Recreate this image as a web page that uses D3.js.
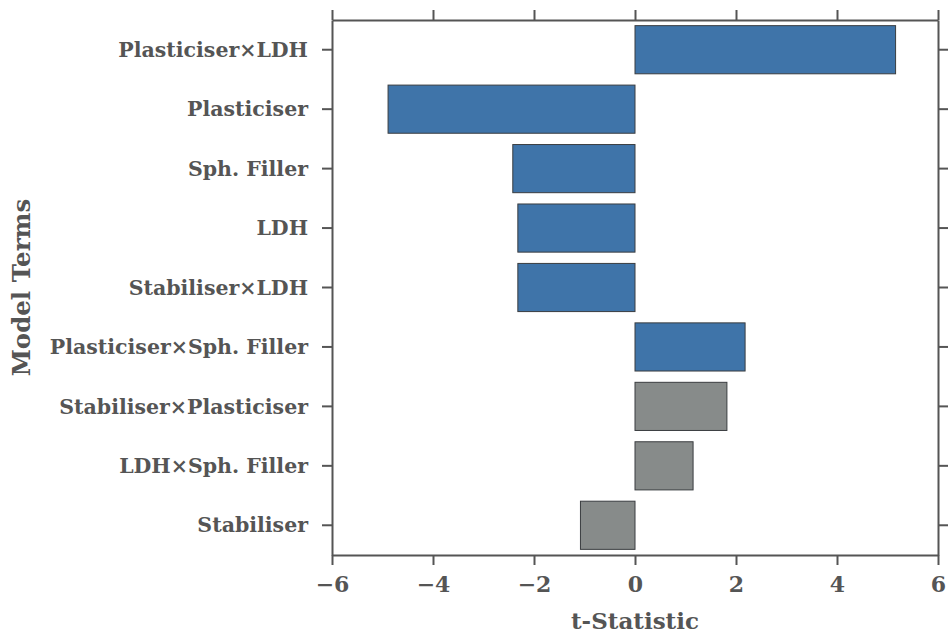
<!DOCTYPE html>
<html>
<head>
<meta charset="utf-8">
<script src="https://cdn.jsdelivr.net/npm/d3@7"></script>
<style>
    body { margin: 0; background: #fff; }
    svg text { font-family: 'DejaVu Serif', serif; font-weight: bold; fill: #555; }
</style>
</head>
<body>
<svg id="chart"></svg>
<script>
const terms = ['Plasticiser×LDH', 'Plasticiser', 'Sph. Filler', 'LDH', 'Stabiliser×LDH',
    'Plasticiser×Sph. Filler', 'Stabiliser×Plasticiser', 'LDH×Sph. Filler', 'Stabiliser'];
const tValues = [5.16, -4.89, -2.42, -2.32, -2.32, 2.18, 1.82, 1.15, -1.08];
const significant = [true, true, true, true, true, true, false, false, false];
const xTicks = [-6, -4, -2, 0, 2, 4, 6];

function TBar(id, width, height) {
    const margin = {top: 20, right: 13, bottom: 84, left: 332};
    const axisColor = '#555';
    const tickLength = 10;

    const chart = d3.select(id)
        .attr('width', width)
        .attr('height', height);

    const w = width - margin.left - margin.right;
    const h = height - margin.top - margin.bottom;

    const x = d3.scaleLinear()
        .domain([-6, 6])
        .range([0, w]);

    const y = d3.scaleBand()
        .domain(terms)
        .range([0, h])
        .paddingInner(0.19)
        .paddingOuter(0.095);

    const g = chart.append('g')
        .attr('transform', `translate(${margin.left}, ${margin.top})`);

    const data = terms.map(function(term, index) {
        return {term: term, value: tValues[index], significant: significant[index]};
    });

    g.selectAll('rect.bar')
        .data(data)
        .enter()
        .append('rect')
        .attr('class', 'bar')
        .attr('x', function(d) { return x(Math.min(0, d.value)); })
        .attr('y', function(d) { return y(d.term); })
        .attr('width', function(d) { return Math.abs(x(d.value) - x(0)); })
        .attr('height', y.bandwidth())
        .attr('fill', function(d) { return d.significant ? '#3f74a9' : '#878b8a'; })
        .attr('stroke', '#3a3d40')
        .attr('stroke-width', 1);

    // frame with outward ticks on all four sides
    const bottom = g.append('g')
        .attr('transform', `translate(0, ${h})`)
        .call(d3.axisBottom(x).tickValues(xTicks).tickSizeInner(tickLength).tickSizeOuter(0)
            .tickFormat(function(d) { return d < 0 ? '\u2212' + Math.abs(d) : d; }));
    const top = g.append('g')
        .call(d3.axisTop(x).tickValues(xTicks).tickSizeInner(tickLength).tickSizeOuter(0).tickFormat(''));
    const left = g.append('g')
        .call(d3.axisLeft(y).tickSizeInner(tickLength).tickSizeOuter(0).tickPadding(14));
    const right = g.append('g')
        .attr('transform', `translate(${w}, 0)`)
        .call(d3.axisRight(y).tickSizeInner(tickLength).tickSizeOuter(0).tickFormat(''));

    [bottom, top, left, right].forEach(function(axis) {
        axis.select('.domain').attr('stroke', axisColor).attr('stroke-width', 2);
        axis.selectAll('.tick line').attr('stroke', axisColor).attr('stroke-width', 2);
    });

    bottom.selectAll('text')
        .style('font-size', '22px')
        .attr('dy', '1.1em');

    left.selectAll('text')
        .style('font-size', '20.5px')
        .attr('dy', '0.35em');

    g.append('text')
        .attr('x', x(0))
        .attr('y', h + 74)
        .attr('text-anchor', 'middle')
        .style('font-size', '23px')
        .text('t-Statistic');

    g.append('text')
        .attr('transform', `translate(${-302}, ${h / 2}) rotate(-90)`)
        .attr('text-anchor', 'middle')
        .style('font-size', '24.5px')
        .text('Model Terms');
}

TBar('#chart', 951, 639);
</script>
</body>
</html>
